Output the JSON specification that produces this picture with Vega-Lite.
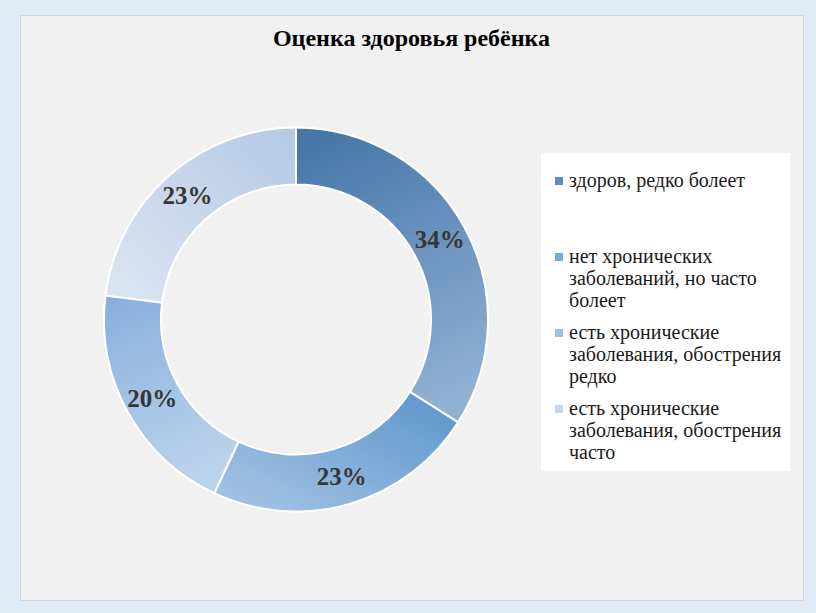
{
  "$schema": "https://vega.github.io/schema/vega-lite/v6.json",
  "width": 783,
  "height": 585,
  "autosize": {"type": "none"},
  "padding": {"left": 20, "top": 15, "right": 13, "bottom": 13},
  "background": "#e1ebf6",
  "view": {"fill": "#f1f1f1", "stroke": "#d6d6d6", "strokeWidth": 1},
  "config": {
    "font": "Liberation Serif",
    "legend": {"labelFont": "Liberation Serif"}
  },
  "title": {
    "text": "Оценка здоровья ребёнка",
    "font": "Liberation Serif",
    "fontSize": 24,
    "fontWeight": "bold",
    "color": "#000000",
    "anchor": "middle",
    "frame": "group",
    "baseline": "alphabetic",
    "offset": -55
  },
  "data": {
    "values": [
      {"category": "здоров, редко болеет", "share": 0.34},
      {"category": "нет хронических заболеваний, но часто болеет", "share": 0.23},
      {"category": "есть хронические заболевания, обострения редко", "share": 0.20},
      {"category": "есть хронические заболевания, обострения часто", "share": 0.23}
    ]
  },
  "transform": [
    {"stack": "share", "groupby": [], "as": ["s0", "s1"]}
  ],
  "encoding": {
    "theta": {"field": "s0", "type": "quantitative", "scale": {"domain": [0, 1]}},
    "theta2": {"field": "s1"}
  },
  "layer": [
    {
      "mark": {
        "type": "arc",
        "innerRadius": 135,
        "outerRadius": 192,
        "stroke": "#ffffff",
        "strokeWidth": 2,
        "x": {"expr": "width*0.3525"},
        "y": {"expr": "height*0.5205"}
      },
      "encoding": {
        "color": {
          "field": "category",
          "type": "nominal",
          "sort": [
            "здоров, редко болеет",
            "нет хронических заболеваний, но часто болеет",
            "есть хронические заболевания, обострения редко",
            "есть хронические заболевания, обострения часто"
          ],
          "scale": {
            "domain": [
              "здоров, редко болеет",
              "нет хронических заболеваний, но часто болеет",
              "есть хронические заболевания, обострения редко",
              "есть хронические заболевания, обострения часто"
            ],
            "range": ["#5f8cbc", "#79a8d8", "#9fc0e3", "#c9d8ec"]
          },
          "legend": {
            "orient": "none",
            "legendX": 521,
            "legendY": 138,
            "title": null,
            "fillColor": "#ffffff",
            "padding": 8,
            "symbolType": "M-1,1.5H1V3.5H-1Z",
            "symbolSize": 64,
            "symbolStrokeWidth": 0,
            "labelFont": "Liberation Serif",
            "labelFontSize": 20,
            "labelColor": "#1a1a1a",
            "labelLimit": 400,
            "labelOffset": 0,
            "labelBaseline": "top",
            "rowPadding": 2,
            "labelExpr": "datum.value == 'здоров, редко болеет' ? ['здоров, редко болеет', '', ''] : datum.value == 'нет хронических заболеваний, но часто болеет' ? ['нет хронических', 'заболеваний, но часто', 'болеет'] : datum.value == 'есть хронические заболевания, обострения редко' ? ['есть хронические', 'заболевания, обострения', 'редко'] : ['есть хронические', 'заболевания, обострения', 'часто']"
          }
        }
      }
    },
    {
      "transform": [{"filter": "datum.category == 'здоров, редко болеет'"}],
      "mark": {
        "type": "arc", "innerRadius": 135, "outerRadius": 192, "stroke": "#ffffff", "strokeWidth": 2,
        "x": {"expr": "width*0.3525"}, "y": {"expr": "height*0.5205"},
        "color": {"gradient": "linear", "x1": 0.2, "y1": 0, "x2": 0.5, "y2": 1, "stops": [{"offset": 0, "color": "#4676a8"}, {"offset": 1, "color": "#8fb1d4"}]}
      }
    },
    {
      "transform": [{"filter": "datum.category == 'нет хронических заболеваний, но часто болеет'"}],
      "mark": {
        "type": "arc", "innerRadius": 135, "outerRadius": 192, "stroke": "#ffffff", "strokeWidth": 2,
        "x": {"expr": "width*0.3525"}, "y": {"expr": "height*0.5205"},
        "color": {"gradient": "linear", "x1": 1, "y1": 0, "x2": 0, "y2": 1, "stops": [{"offset": 0, "color": "#5a94cc"}, {"offset": 1, "color": "#a8c5e5"}]}
      }
    },
    {
      "transform": [{"filter": "datum.category == 'есть хронические заболевания, обострения редко'"}],
      "mark": {
        "type": "arc", "innerRadius": 135, "outerRadius": 192, "stroke": "#ffffff", "strokeWidth": 2,
        "x": {"expr": "width*0.3525"}, "y": {"expr": "height*0.5205"},
        "color": {"gradient": "linear", "x1": 0, "y1": 0, "x2": 0.3, "y2": 1, "stops": [{"offset": 0, "color": "#86afdc"}, {"offset": 1, "color": "#bbd2eb"}]}
      }
    },
    {
      "transform": [{"filter": "datum.category == 'есть хронические заболевания, обострения часто'"}],
      "mark": {
        "type": "arc", "innerRadius": 135, "outerRadius": 192, "stroke": "#ffffff", "strokeWidth": 2,
        "x": {"expr": "width*0.3525"}, "y": {"expr": "height*0.5205"},
        "color": {"gradient": "linear", "x1": 1, "y1": 0, "x2": 0, "y2": 1, "stops": [{"offset": 0, "color": "#b4c9e5"}, {"offset": 1, "color": "#dde6f2"}]}
      }
    },
    {
      "mark": {
        "type": "text",
        "radius": 164,
        "font": "Liberation Serif",
        "fontSize": 25,
        "fontWeight": "bold",
        "fill": "#363636",
        "x": {"expr": "width*0.3525"},
        "y": {"expr": "height*0.5205"}
      },
      "encoding": {
        "theta": {"field": "share", "type": "quantitative", "stack": true},
        "theta2": null,
        "order": {"field": "s0", "type": "quantitative"},
        "text": {"field": "share", "type": "quantitative", "format": ".0%"}
      }
    }
  ]
}
